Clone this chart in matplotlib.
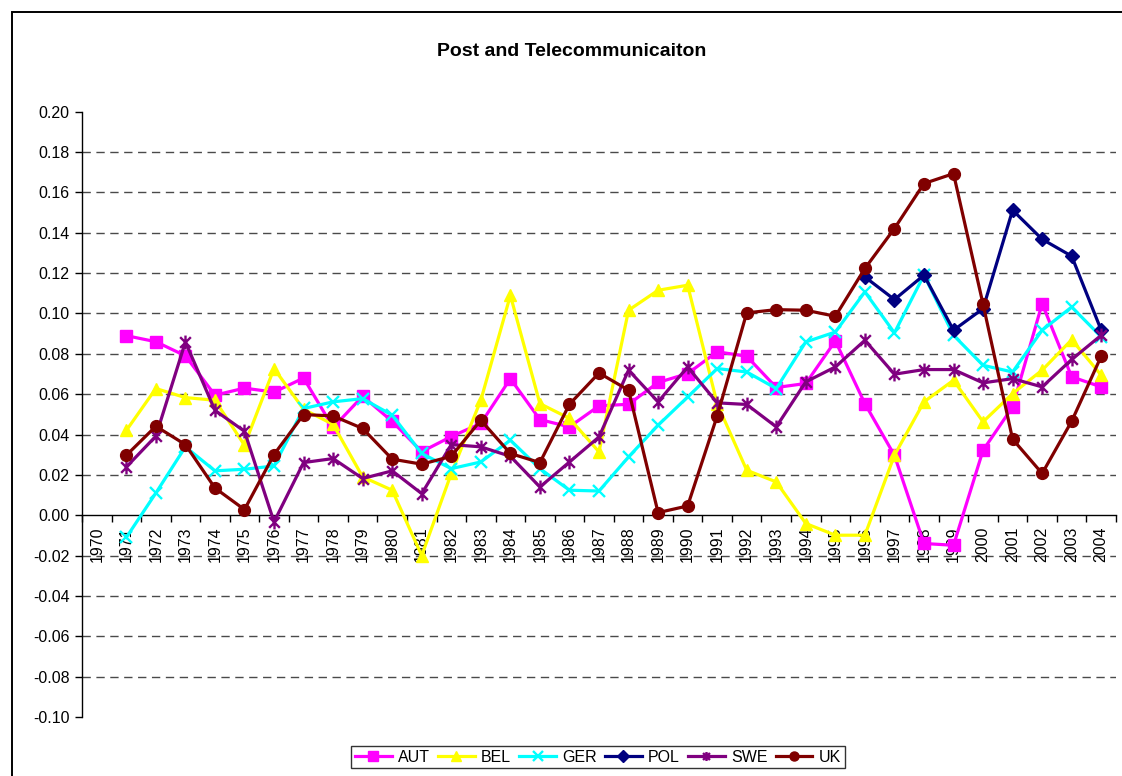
import numpy as np
import matplotlib
matplotlib.use("Agg")
import matplotlib.pyplot as plt
from matplotlib.patches import Rectangle
from matplotlib.path import Path
from matplotlib.ticker import FixedLocator, FixedFormatter

plt.rcParams['font.family'] = ['Liberation Sans', 'DejaVu Sans']

years = [str(y) for y in range(1970, 2005)]
nan = np.nan

AUT = [nan, 0.089, 0.086, 0.079, 0.0595, 0.063, 0.061, 0.068, 0.0435, 0.059,
       0.0465, 0.0315, 0.039, 0.0455, 0.0677, 0.0474, 0.0438, 0.0542, 0.055, 0.0658,
       0.0702, 0.081, 0.0788, 0.0633, 0.0653, 0.0864, 0.0553, 0.0297, -0.014, -0.0149,
       0.0322, 0.0537, 0.1049, 0.0686, 0.0636]
BEL = [nan, 0.042, 0.0628, 0.0583, 0.057, 0.0347, 0.0727, 0.0525, 0.045, 0.019,
       0.0124, -0.020, 0.0207, 0.057, 0.109, 0.0553, 0.048, 0.0314, 0.1016, 0.1115,
       0.114, 0.0553, 0.0223, 0.0165, -0.0041, -0.0099, -0.0099, 0.0297, 0.0562, 0.0669,
       0.0463, 0.0603, 0.0719, 0.087, 0.0694]
GER = [nan, -0.011, 0.011, 0.0339, 0.022, 0.0228, 0.0244, 0.0529, 0.0562, 0.0578,
       0.0496, 0.0306, 0.0231, 0.0264, 0.0372, 0.0231, 0.0124, 0.012, 0.0289, 0.0446,
       0.0586, 0.0727, 0.071, 0.0628, 0.0859, 0.0908, 0.1107, 0.0904, 0.119, 0.0892,
       0.0743, 0.071, 0.0917, 0.1032, 0.0884]
POL = [nan] * 26 + [0.1181, 0.1069, 0.119, 0.0917, 0.1024, 0.1512, 0.1368, 0.1284, 0.0917]
SWE = [nan, 0.0239, 0.0392, 0.0859, 0.052, 0.0416, -0.0033, 0.0261, 0.0281, 0.0182,
       0.022, 0.0107, 0.035, 0.0339, 0.0292, 0.014, 0.0264, 0.0388, 0.0719, 0.0562,
       0.0735, 0.0557, 0.0549, 0.0438, 0.0661, 0.0735, 0.0867, 0.0699, 0.0722, 0.0722,
       0.0656, 0.0677, 0.0636, 0.0772, 0.0892]
UK = [nan, 0.0297, 0.0441, 0.035, 0.0135, 0.0028, 0.0301, 0.0499, 0.0492, 0.043,
      0.0278, 0.0253, 0.0292, 0.0471, 0.0306, 0.0261, 0.055, 0.0705, 0.062, 0.0013,
      0.0046, 0.0492, 0.1003, 0.1019, 0.1016, 0.0986, 0.1223, 0.1421, 0.1644, 0.1693,
      0.1046, 0.0377, 0.0207, 0.0466, 0.0788]

# Excel-style star: X plus vertical bar
star = Path([(-1, -1), (1, 1), (-1, 1), (1, -1), (0, -1.3), (0, 1.3)],
            [Path.MOVETO, Path.LINETO, Path.MOVETO, Path.LINETO, Path.MOVETO, Path.LINETO])

series = [
    ("AUT", AUT, "#FF00FF", "s", 8),
    ("BEL", BEL, "#FFFF00", "^", 9),
    ("GER", GER, "#00FFFF", "x", 8.5),
    ("POL", POL, "#000080", "D", 7),
    ("SWE", SWE, "#800080", star, 10),
    ("UK", UK, "#800000", "o", 8.5),
]

yticks = [round(-0.10 + 0.02 * i, 2) for i in range(16)]

fig = plt.figure(figsize=(11.22, 7.76), dpi=100)
fig.patches.append(Rectangle((12 / 1122, -0.1), 1.2, 1.1 - 12 / 776,
                             transform=fig.transFigure, fill=False,
                             edgecolor='black', lw=1.4))
ax = fig.add_axes([82 / 1122, 59 / 776, 1034 / 1122, 605.3 / 776])

x = np.arange(len(years))
ax.set_xlim(-0.5, len(years) - 0.5)
ax.set_ylim(-0.10, 0.20)

for yv in yticks[1:-1]:
    if abs(yv) > 1e-9:
        ax.axhline(yv, color='#4a4a4a', lw=1.0, linestyle=(0, (6, 4)), zorder=0.5)

for name, vals, col, mk, ms in series:
    v = np.array(vals, dtype=float)
    mew = 1.7 if (isinstance(mk, str) and mk == "x") or isinstance(mk, Path) else 1.0
    ax.plot(x, v, color=col, lw=2.3, marker=mk, markersize=ms,
            markerfacecolor=col, markeredgecolor=col, markeredgewidth=mew,
            label=name, zorder=3)

for s in ['top', 'right']:
    ax.spines[s].set_visible(False)
ax.spines['bottom'].set_position(('data', 0))
ax.spines['bottom'].set_color('black')
ax.spines['left'].set_color('black')
ax.spines['bottom'].set_linewidth(1.0)
ax.spines['left'].set_linewidth(1.0)

ax.set_yticks(yticks)
ax.set_yticklabels([f"{v:.2f}" for v in yticks], fontsize=11.5)
ax.tick_params(axis='y', direction='out', length=5, width=1, pad=4)

ax.xaxis.set_major_locator(FixedLocator(x))
ax.xaxis.set_major_formatter(FixedFormatter(years))
ax.xaxis.set_minor_locator(FixedLocator(np.arange(-0.5, len(years), 1.0)))
ax.tick_params(axis='x', which='major', length=0, pad=8, labelsize=11.5, labelrotation=90)
ax.tick_params(axis='x', which='minor', direction='out', length=5, width=1)

fig.text(572 / 1122, 1 - 51 / 776, "Post and Telecommunicaiton", ha='center',
         va='center', fontsize=14, fontweight='bold')

leg = fig.legend(loc='center', bbox_to_anchor=(598 / 1122, 1 - 757 / 776), ncol=6,
                 fontsize=11.5, frameon=True, fancybox=False, handlelength=2.3,
                 columnspacing=0.5, handletextpad=0.4, borderpad=0.25,
                 edgecolor='black', borderaxespad=0)
leg.get_frame().set_linewidth(1.0)
for h in leg.legend_handles:
    h.set_markersize(6.5)

fig.savefig("out.png", dpi=100)
